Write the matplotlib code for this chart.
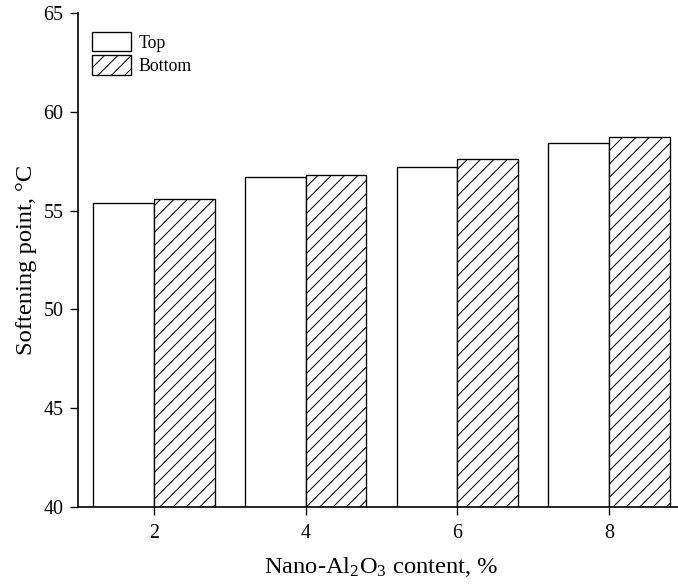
import matplotlib
matplotlib.use("Agg")
import matplotlib.pyplot as plt
import numpy as np

# data
contents = [2, 4, 6, 8]
top_values = [55.4, 56.7, 57.2, 58.4]
bottom_values = [55.6, 56.8, 57.6, 58.7]
y_ticks = [40, 45, 50, 55, 60, 65]

plt.rcParams["font.family"] = ["Liberation Serif", "DejaVu Serif"]
plt.rcParams["mathtext.fontset"] = "custom"
plt.rcParams["mathtext.rm"] = "Liberation Serif"
plt.rcParams["mathtext.it"] = "Liberation Serif:italic"
plt.rcParams["hatch.linewidth"] = 0.9

DPI = 80
fig = plt.figure(figsize=(678 / DPI, 585 / DPI), dpi=DPI)
# axes runs past the right edge of the figure, like the reference
ax = fig.add_axes([78 / 678, 1 - 507 / 585, 606.7 / 678, 494 / 585])

x = np.array(contents, dtype=float)
width = 0.8
ax.bar(x - width / 2, top_values, width, color="white", edgecolor="black",
       linewidth=1.2, label="Top")
ax.bar(x + width / 2, bottom_values, width, color="white", edgecolor="black",
       linewidth=1.2, hatch="//", label="Bottom")

ax.set_xlim(1, 9)
ax.set_ylim(40, 65)
ax.set_xticks(contents)
ax.set_yticks(y_ticks)

for side in ["top", "right"]:
    ax.spines[side].set_visible(False)
for side in ["left", "bottom"]:
    ax.spines[side].set_linewidth(1.5)

ax.tick_params(direction="out", length=7, width=1.2, labelsize=18)
ax.tick_params(axis="x", pad=8)
ax.tick_params(axis="y", pad=6)

ax.set_xlabel("Nano-Al$_2$O$_3$ content, %", fontsize=22, labelpad=11)
ax.set_ylabel("Softening point, \u00b0C", fontsize=22, labelpad=6)

ax.legend(loc="upper left", bbox_to_anchor=(14 / 606.7, 1 - 19 / 494),
          frameon=False, fontsize=16, borderpad=0, borderaxespad=0,
          handlelength=2.2, handleheight=1.3, labelspacing=0.2,
          handletextpad=0.4)

fig.savefig("out.png", dpi=DPI)
